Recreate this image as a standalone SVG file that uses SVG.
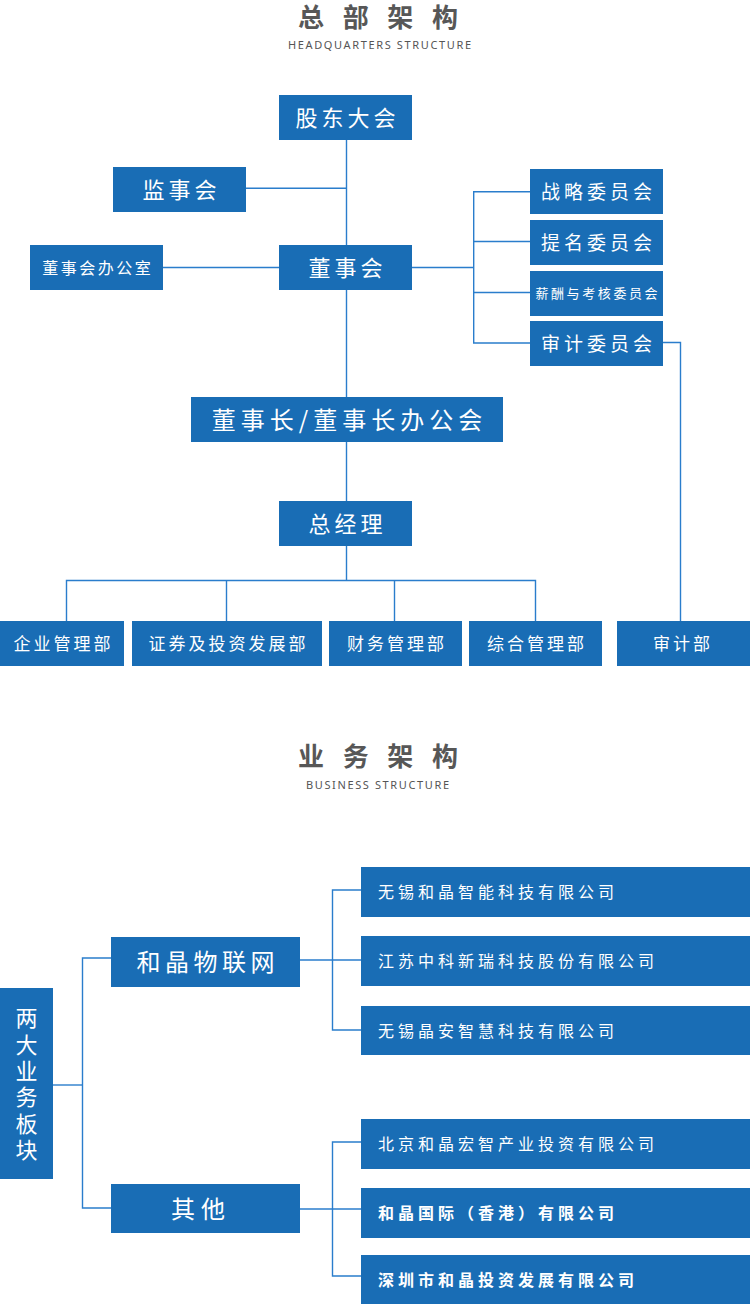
<svg xmlns="http://www.w3.org/2000/svg" width="750" height="1304" viewBox="0 0 750 1304">
<style>
.bg{fill:#ffffff}
.box{fill:#196db5}
.t{fill:#ffffff;font-family:"Noto Sans CJK SC","Noto Sans",sans-serif;text-anchor:middle}
.ts{fill:#ffffff;font-family:"Noto Sans CJK SC","Noto Sans",sans-serif;text-anchor:start;font-size:16px;letter-spacing:4px}
.tb{font-weight:bold}
.h{fill:#575757;font-family:"Noto Sans CJK SC","Noto Sans",sans-serif;font-weight:bold;font-size:26px}
.e{fill:#555555;font-family:"Noto Sans","Liberation Sans",sans-serif;font-size:11px}
.c{fill:none;stroke:#2a7dcc;stroke-width:1.4}
</style>
<rect class="bg" x="0" y="0" width="750" height="1304"/>

<g id="titles">
<text class="h" x="298" y="27" textLength="160" lengthAdjust="spacing">总部架构</text>
<text class="e" x="288" y="49" textLength="183" lengthAdjust="spacing">HEADQUARTERS STRUCTURE</text>
<text class="h" x="298" y="766" textLength="160" lengthAdjust="spacing">业务架构</text>
<text class="e" x="306" y="789" textLength="143" lengthAdjust="spacing">BUSINESS STRUCTURE</text>
</g>

<g id="connectors">
<path class="c" d="M346.5 140 V397"/>
<path class="c" d="M246 188.3 H346.5"/>
<path class="c" d="M163 267.5 H279"/>
<path class="c" d="M412 267.5 H473.7"/>
<path class="c" d="M530 191.7 H473.7 V343 H530"/>
<path class="c" d="M473.7 241.5 H530"/>
<path class="c" d="M473.7 292.5 H530"/>
<path class="c" d="M663 342.5 H680.5 V621"/>
<path class="c" d="M346.5 442 V501"/>
<path class="c" d="M346.5 546 V580.5"/>
<path class="c" d="M66.5 621 V580.5 H535.5 V621"/>
<path class="c" d="M226.5 580.5 V621"/>
<path class="c" d="M394.5 580.5 V621"/>
<path class="c" d="M53 1085 H82.5"/>
<path class="c" d="M111 958 H82.5 V1208 H111"/>
<path class="c" d="M300 960 H361"/>
<path class="c" d="M361 890 H332.5 V1030 H361"/>
<path class="c" d="M300 1209 H361"/>
<path class="c" d="M361 1142 H332.5 V1276 H361"/>
</g>

<g id="n-gudong"><rect class="box" x="279" y="95" width="133" height="45"/><text class="t" x="347.5" y="126" font-size="22" letter-spacing="4">股东大会</text></g>
<g id="n-jianshi"><rect class="box" x="113" y="167" width="133" height="45"/><text class="t" x="181.5" y="198" font-size="22" letter-spacing="4">监事会</text></g>
<g id="n-dongshihui-office"><rect class="box" x="30" y="245" width="133" height="45"/><text class="t" x="97.7" y="273.5" font-size="16" letter-spacing="2.5">董事会办公室</text></g>
<g id="n-dongshihui"><rect class="box" x="279" y="245" width="133" height="45"/><text class="t" x="347.5" y="276" font-size="22" letter-spacing="4">董事会</text></g>
<g id="n-zhanlue"><rect class="box" x="530" y="169" width="133" height="45"/><text class="t" x="598.5" y="198.7" font-size="19" letter-spacing="4">战略委员会</text></g>
<g id="n-timing"><rect class="box" x="530" y="220" width="133" height="45"/><text class="t" x="598.5" y="249.7" font-size="19" letter-spacing="4">提名委员会</text></g>
<g id="n-xinchou"><rect class="box" x="530" y="271" width="133" height="45"/><text class="t" x="597.8" y="298.4" font-size="13" letter-spacing="2.6">薪酬与考核委员会</text></g>
<g id="n-shenji-wyh"><rect class="box" x="530" y="321" width="133" height="45"/><text class="t" x="598.5" y="350.7" font-size="19" letter-spacing="4">审计委员会</text></g>
<g id="n-dongshizhang"><rect class="box" x="191" y="397" width="312" height="45"/><text class="t" x="349.5" y="428.5" font-size="24" letter-spacing="5">董事长/董事长办公会</text></g>
<g id="n-zongjingli"><rect class="box" x="279" y="501" width="133" height="45"/><text class="t" x="347.5" y="532" font-size="22" letter-spacing="4">总经理</text></g>
<g id="n-qiye"><rect class="box" x="0" y="621" width="124" height="45"/><text class="t" x="63.5" y="650" font-size="17" letter-spacing="3">企业管理部</text></g>
<g id="n-zhengquan"><rect class="box" x="132" y="621" width="190" height="45"/><text class="t" x="228.5" y="650" font-size="17" letter-spacing="3">证券及投资发展部</text></g>
<g id="n-caiwu"><rect class="box" x="329" y="621" width="133" height="45"/><text class="t" x="397" y="650" font-size="17" letter-spacing="3">财务管理部</text></g>
<g id="n-zonghe"><rect class="box" x="469" y="621" width="133" height="45"/><text class="t" x="537" y="650" font-size="17" letter-spacing="3">综合管理部</text></g>
<g id="n-shenjibu"><rect class="box" x="617" y="621" width="133" height="45"/><text class="t" x="683" y="650" font-size="17" letter-spacing="3">审计部</text></g>

<g id="n-liangda"><rect class="box" x="0" y="988" width="53" height="191"/>
<text class="t" x="26.5" y="1086" font-size="22" letter-spacing="4.3" style="writing-mode:vertical-rl;text-orientation:upright">两大业务板块</text></g>
<g id="n-wulianwang"><rect class="box" x="111" y="937" width="189" height="50"/><text class="t" x="207.7" y="971" font-size="24" letter-spacing="4.5">和晶物联网</text></g>
<g id="n-qita"><rect class="box" x="111" y="1184" width="189" height="49"/><text class="t" x="201" y="1217.5" font-size="24" letter-spacing="6">其他</text></g>
<g id="n-c1"><rect class="box" x="361" y="867" width="389" height="50"/><text class="ts" x="378" y="898">无锡和晶智能科技有限公司</text></g>
<g id="n-c2"><rect class="box" x="361" y="936" width="389" height="50"/><text class="ts" x="378" y="967">江苏中科新瑞科技股份有限公司</text></g>
<g id="n-c3"><rect class="box" x="361" y="1006" width="389" height="49"/><text class="ts" x="378" y="1036.5">无锡晶安智慧科技有限公司</text></g>
<g id="n-c4"><rect class="box" x="361" y="1119" width="389" height="50"/><text class="ts" x="378" y="1150">北京和晶宏智产业投资有限公司</text></g>
<g id="n-c5"><rect class="box" x="361" y="1188" width="389" height="50"/><text class="ts tb" x="378" y="1219">和晶国际（香港）有限公司</text></g>
<g id="n-c6"><rect class="box" x="361" y="1255" width="389" height="49"/><text class="ts tb" x="378" y="1285.5">深圳市和晶投资发展有限公司</text></g>
</svg>
